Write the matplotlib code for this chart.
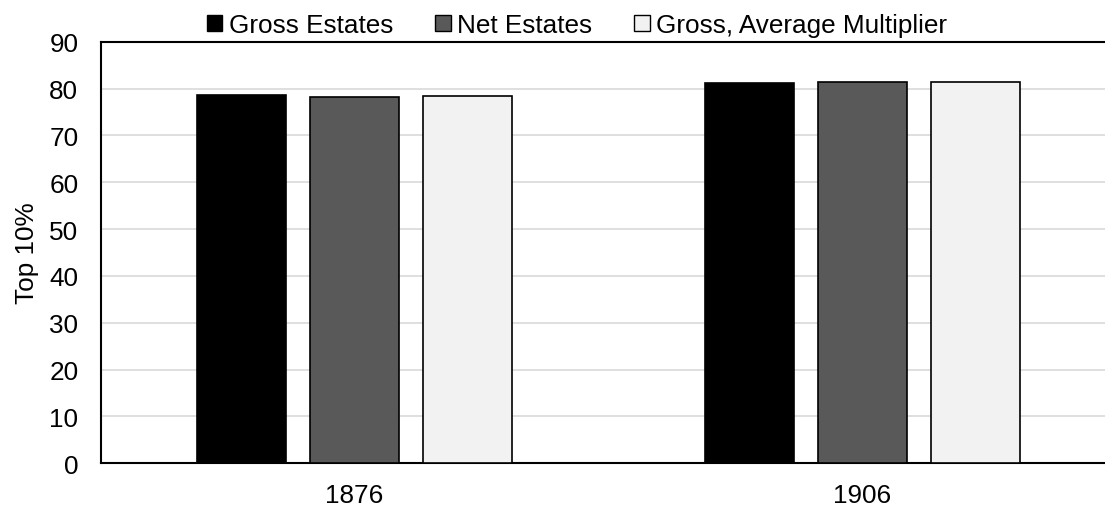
import matplotlib
matplotlib.use("Agg")
import matplotlib.pyplot as plt
from matplotlib.patches import Patch
import numpy as np

plt.rcParams['font.family'] = ['Liberation Sans', 'DejaVu Sans']

categories = ["1876", "1906"]
series_names = ["Gross Estates", "Net Estates", "Gross, Average Multiplier"]
gross = [78.6, 81.2]
net = [78.3, 81.3]
gross_avg = [78.5, 81.3]
yticks = [0, 10, 20, 30, 40, 50, 60, 70, 80, 90]

colors = ["#000000", "#595959", "#f2f2f2"]
FS = 18.8

fig = plt.figure(figsize=(11.05, 5.06), dpi=100)
W, H = 1105, 506
left, right = 100.5, 1105
top, bottom = 42.7, 464.3
ax = fig.add_axes([left / W, 1 - bottom / H, (right - left) / W, (bottom - top) / H])

x = np.arange(len(categories))
bw = 0.176
off = 0.2224
for i, (vals, c) in enumerate(zip([gross, net, gross_avg], colors)):
    ax.bar(x + (i - 1) * off, vals, width=bw, color=c, edgecolor="#000000",
           linewidth=1.2, zorder=3)

ax.set_xlim(-0.5, -0.5 + (right - left) / 508)
ax.set_ylim(0, 90)
ax.set_yticks(yticks)
ax.set_xticks(x)
ax.set_xticklabels(categories)
ax.tick_params(axis='both', length=0, labelsize=FS, colors="#000000")
ax.tick_params(axis='y', pad=16)
ax.tick_params(axis='x', pad=14)
ax.grid(axis='y', color="#d9d9d9", linewidth=1.2, zorder=0)
ax.set_axisbelow(True)
for s in ["left", "bottom", "top"]:
    ax.spines[s].set_linewidth(1.5)
    ax.spines[s].set_color("#000000")
ax.spines["right"].set_visible(False)
ax.set_ylabel("Top 10%", fontsize=FS, labelpad=7)

handles = [Patch(facecolor=c, edgecolor="#000000", linewidth=1.0) for c in colors]
fig.legend(handles, series_names, loc="center", bbox_to_anchor=(577 / W, 1 - 26 / H),
           ncol=3, frameon=False, fontsize=FS, handlelength=0.6, handleheight=0.6,
           handletextpad=0.25, columnspacing=1.6, borderpad=0)

fig.savefig("out.png", dpi=100)
